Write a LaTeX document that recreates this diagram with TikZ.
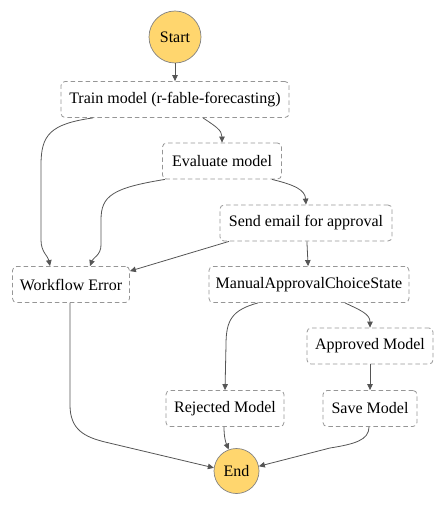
\documentclass[tikz,border=0pt]{standalone}
\usepackage{fontspec}
\setmainfont{Liberation Serif}
\usepackage{tikz}
\usetikzlibrary{arrows.meta}

\definecolor{termfill}{RGB}{255,214,110}
\definecolor{termline}{RGB}{130,130,130}
\definecolor{boxline}{RGB}{150,150,150}
\definecolor{edgecol}{RGB}{85,85,85}

\tikzset{
	term/.style={circle, draw=termline, fill=termfill, line width=0.7pt, inner sep=0pt, font=\fontsize{16}{19}\selectfont},
	state/.style={rectangle, rounded corners=4pt, draw=boxline, line width=0.8pt, dash pattern=on 4.5pt off 3pt, minimum height=36pt, inner sep=0pt, font=\fontsize{16}{19}\selectfont},
	edge/.style={draw=edgecol, line width=0.8pt, -{Triangle[length=6pt,width=5.5pt]}}
}

\begin{document}
\begin{tikzpicture}[x=1pt, y=-1pt]
				\useasboundingbox (0,0) rectangle (445,505);
				
				\node[term, minimum size=52pt] (start) at (175,37) {Start};
				\node[state, minimum width=228pt] (train) at (175,99.5) {Train model (r-fable-forecasting)};
				\node[state, minimum width=119pt] (eval) at (222,161) {Evaluate model};
				\node[state, minimum width=172pt] (send) at (306,223) {Send email for approval};
				\node[state, minimum width=117pt] (werr) at (71,284.5) {Workflow Error};
				\node[state, minimum width=200pt] (manual) at (309,284.5) {ManualApprovalChoiceState};
				\node[state, minimum width=126pt] (approved) at (370,346) {Approved Model};
				\node[state, minimum width=118pt] (rejected) at (225,408.5) {Rejected Model};
				\node[state, minimum width=94pt] (save) at (370,408.5) {Save Model};
				\node[term, minimum size=45pt] (end) at (236.5,471) {End};
				
				% main flow
				\draw[edge] (start) -- (train);
				\draw[edge] ([xshift=28pt]train.south) .. controls (215,126) and (222,130) .. (eval.north);
				\draw[edge] ([xshift=50pt]eval.south) .. controls (295,185) and (305,190) .. (send.north);
				\draw[edge] (send) -- (manual);
				\draw[edge] ([xshift=-51pt]manual.south) .. controls (232,310) and (226,320) .. (226,345) -- (rejected.north);
				\draw[edge] ([xshift=36pt]manual.south) .. controls (360,310) and (370,314) .. (approved.north);
				\draw[edge] (approved) -- (save);
				
				% errors
				\draw[edge] ([xshift=-82pt]train.south) .. controls (50,124) and (41,135) .. (41,165) -- (41,240) .. controls (41,252) and (48,256) .. ([xshift=-21pt]werr.north);
				\draw[edge] ([xshift=-57pt]eval.south) .. controls (112,188) and (101,196) .. (101,220) -- (101,245) .. controls (101,255) and (93,258) .. ([xshift=19pt]werr.north);
				\draw[edge] ([xshift=-77pt]send.south) -- ([yshift=-5pt]werr.north east);
				
				% to the end
				\draw[edge] ([xshift=-1pt]rejected.south) .. controls (224,438) and (226,443) .. (end.110);
				\draw[edge] ([xshift=-1pt]werr.south) -- (70,405) .. controls (70,430) and (85,437) .. (105,442) -- (end.172);
				\draw[edge] ([xshift=-1pt]save.south) .. controls (369,440) and (355,444) .. (330,448) -- (end.12);
			\end{tikzpicture}
\end{document}
